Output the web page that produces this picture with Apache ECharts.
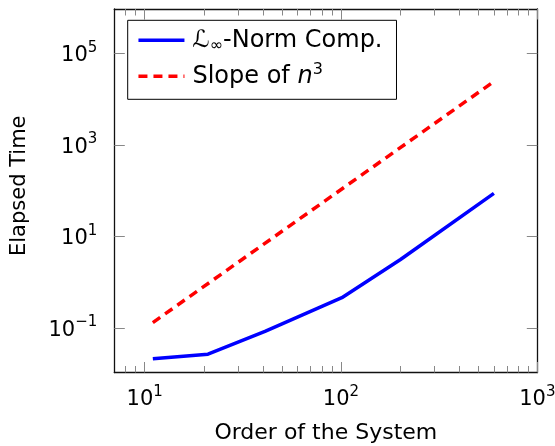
<!DOCTYPE html>
<html>
<head>
<meta charset="utf-8">
<script src="https://cdn.jsdelivr.net/npm/echarts@6/dist/echarts.min.js"></script>
<style>html,body{margin:0;padding:0;background:#fff;}#c{width:555px;height:446px;}</style>
</head>
<body>
<div id="c"></div>
<script>
// ---- data ----
var seriesNames = ['ℒ∞-Norm Comp.', 'Slope of n³'];
var normX = [11, 21, 41, 101, 201, 601];
var normY = [0.0212, 0.0266, 0.084, 0.458, 3.14, 87.3];
var slopeX = [11, 601];
var slopeY = [0.131, 24400];
var xTickValues = [10, 100, 1000];
var xTickExps = ['1', '2', '3'];
var yTickValues = [0.1, 10, 1000, 100000];
var yTickExps = ['−1', '1', '3', '5'];
var xTitle = 'Order of the System';
var yTitle = 'Elapsed Time';

var FONT = 'DejaVu Sans';
var chart = echarts.init(document.getElementById('c'), null, {renderer: 'canvas'});

function pairs(xs, ys) { return xs.map(function (x, i) { return [x, ys[i]]; }); }
function powLabel(values, exps) {
  return function (v) {
    var idx = -1;
    for (var i = 0; i < values.length; i++) { if (Math.abs(Math.log10(v) - Math.log10(values[i])) < 1e-6) idx = i; }
    if (idx < 0) return '';
    return '{b|10}{s|' + exps[idx] + '}';
  };
}
var labelRich = {
  b: {fontFamily: FONT, fontSize: 21, color: '#000', lineHeight: 26, verticalAlign: 'bottom'},
  s: {fontFamily: FONT, fontSize: 15, color: '#000', lineHeight: 15, verticalAlign: 'top'}
};
var XMIN = 7, XMAX = 1000, YMIN = 0.0106, YMAX = 9.4e5;
var frame = {show: true, lineStyle: {color: '#111', width: 1.3}};
var TICKC = '#888';

function xAx(pos, labels) {
  var a = {
    type: 'log', logBase: 10, min: XMIN, max: XMAX, position: pos, gridIndex: 0,
    axisLine: frame,
    axisTick: {show: true, inside: true, length: 10.5, customValues: xTickValues, lineStyle: {color: TICKC, width: 1}},
    minorTick: {show: true, length: 6.5, splitNumber: 9, lineStyle: {color: TICKC, width: 1}},
    splitLine: {show: false},
    minorSplitLine: {show: false},
    axisLabel: labels ? {show: true, customValues: xTickValues, formatter: powLabel(xTickValues, xTickExps), rich: labelRich, margin: 12} : {show: false}
  };
  if (labels) {
    a.name = xTitle; a.nameLocation = 'middle'; a.nameGap = 50;
    a.nameTextStyle = {fontFamily: FONT, fontSize: 22, color: '#000'};
  }
  return a;
}
function yAx(pos, labels) {
  var a = {
    type: 'log', logBase: 10, min: YMIN, max: YMAX, position: pos, gridIndex: 0,
    axisLine: frame,
    axisTick: {show: true, inside: true, length: 10.5, customValues: yTickValues, lineStyle: {color: TICKC, width: 1}},
    minorTick: {show: false},
    splitLine: {show: false},
    axisLabel: labels ? {show: true, customValues: yTickValues, formatter: powLabel(yTickValues, yTickExps), rich: labelRich, margin: 17} : {show: false}
  };
  if (labels) {
    a.name = yTitle; a.nameLocation = 'middle'; a.nameGap = 84; a.nameRotate = 90;
    a.nameTextStyle = {fontFamily: FONT, fontSize: 21, color: '#000', padding: [0, 0, 0, 10]};
  }
  return a;
}

var option = {
  animation: false,
  backgroundColor: '#fff',
  grid: {left: 114.3, right: 17.7, top: 9, bottom: 73.5, containLabel: false, outerBoundsMode: 'none'},
  xAxis: [xAx('bottom', true), xAx('top', false)],
  yAxis: [yAx('left', true), yAx('right', false)],
  legend: {
    show: true, orient: 'vertical', left: 127.7, top: 20.3,
    itemWidth: 46, itemHeight: 14, itemGap: 8,
    padding: [8, 14, 11, 9],
    borderColor: '#000', borderWidth: 1, borderRadius: 0, backgroundColor: '#fff',
    itemStyle: {opacity: 0},
    lineStyle: {width: 3.5},
    data: seriesNames,
    formatter: function (name) {
      if (name === seriesNames[0]) return '{L|ℒ}{sub|∞}{a|-Norm Comp.}';
      return '{a0|Slope of }{i|n}{sup|3}';
    },
    textStyle: {
      fontFamily: FONT, fontSize: 24, color: '#000',
      rich: {
        L: {fontFamily: FONT, fontSize: 24, color: '#000', lineHeight: 28, padding: [0, 0, 0, 3]},
        a0: {fontFamily: FONT, fontSize: 24, color: '#000', lineHeight: 28, padding: [0, 0, 0, 3]},
        a: {fontFamily: FONT, fontSize: 24, color: '#000', lineHeight: 28},
        i: {fontFamily: FONT, fontSize: 24, fontStyle: 'italic', color: '#000', lineHeight: 28},
        sub: {fontFamily: FONT, fontSize: 16, color: '#000', lineHeight: 14, verticalAlign: 'bottom'},
        sup: {fontFamily: FONT, fontSize: 16, color: '#000', lineHeight: 16, verticalAlign: 'top'}
      }
    }
  },
  series: [
    {name: seriesNames[0], type: 'line', xAxisIndex: 0, yAxisIndex: 0, data: pairs(normX, normY),
     symbol: 'none', lineStyle: {color: '#0000ff', width: 3.5}, itemStyle: {color: '#0000ff'}},
    {name: seriesNames[1], type: 'line', xAxisIndex: 0, yAxisIndex: 0, data: pairs(slopeX, slopeY),
     symbol: 'none', lineStyle: {color: '#ff0000', width: 3.5, type: [9, 6]}, itemStyle: {color: '#ff0000'}}
  ]
};
chart.setOption(option);
</script>
</body>
</html>
